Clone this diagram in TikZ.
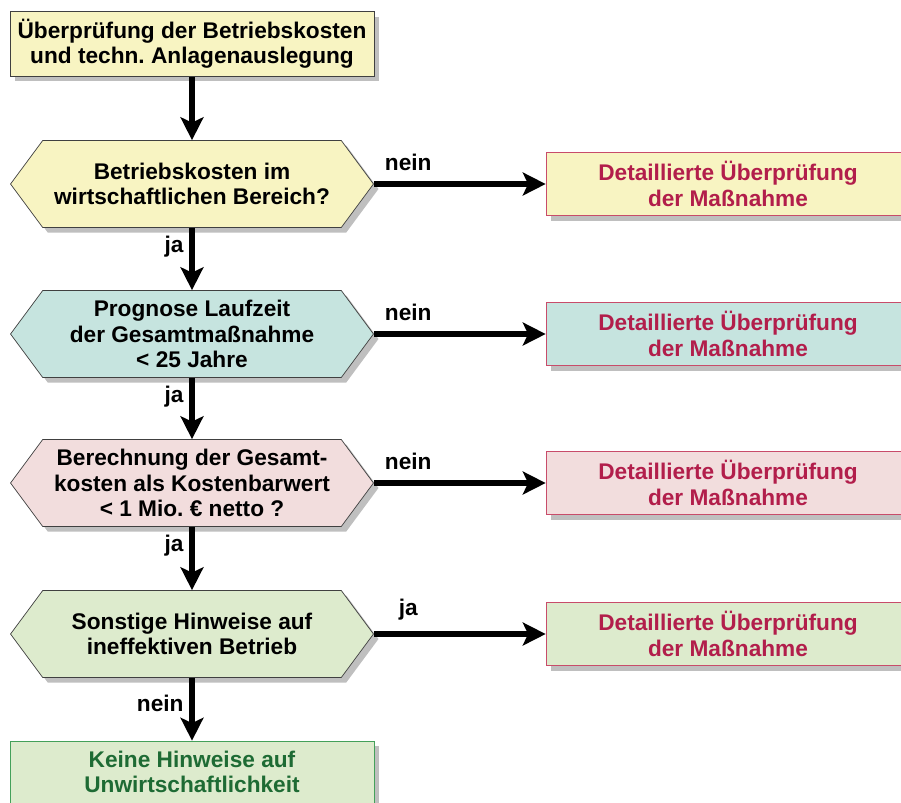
\documentclass[tikz,border=0pt]{standalone}
\usepackage{fontspec}
\setmainfont{Liberation Sans}
\usepackage{tikz}
\usetikzlibrary{positioning,shapes.symbols,shadows,arrows.meta}
\frenchspacing
\definecolor{gelb}{HTML}{F8F4C2}
\definecolor{tuerkis}{HTML}{C6E4DF}
\definecolor{rosa}{HTML}{F2DDDD}
\definecolor{gruen}{HTML}{DDEBCD}
\definecolor{rottext}{HTML}{B21E4B}
\definecolor{rotrand}{HTML}{C84C6A}
\definecolor{gruentext}{HTML}{1E6B34}
\definecolor{gruenrand}{HTML}{44A05A}
\definecolor{randgrau}{HTML}{404040}
\tikzset{
	schatten/.style={drop shadow={shadow xshift=0.1cm, shadow yshift=-0.1cm, fill=black!25, opacity=1}},
	txt/.style={font=\fontsize{12.9pt}{14.4pt}\selectfont\bfseries, align=center},
	kasten/.style={txt, draw=randgrau, schatten, minimum width=7.28cm, minimum height=1.3cm},
	frage/.style={txt, shape=signal, signal to=west and east, signal pointer angle=107, draw=randgrau, schatten, minimum width=7.26cm, minimum height=1.74cm, inner xsep=0pt},
	pruef/.style={txt, draw=rotrand, schatten, text=rottext, minimum width=7.28cm, minimum height=1.26cm},
	pfeil/.style={line width=3pt, -{Stealth[length=13pt,width=13pt,inset=3pt]}},
	lab/.style={txt}
}
\begin{document}
\begin{tikzpicture}[x=0.02cm, y=-0.02cm]
	\useasboundingbox (0,0) rectangle (901,802);
	\node[kasten, fill=gelb] (start) at (192,44) {Überprüfung der Betriebskosten\\und techn. Anlagenauslegung};
	\node[frage, fill=gelb] (q1) at (192,184) {Betriebskosten im\\wirtschaftlichen Bereich?};
	\node[frage, fill=tuerkis] (q2) at (192,334) {Prognose Laufzeit\\der Gesamtmaßnahme\\< 25 Jahre};
	\node[frage, fill=rosa] (q3) at (192,483) {Berechnung der Gesamt-\\kosten als Kostenbarwert\\< 1 Mio. € netto ?};
	\node[frage, fill=gruen] (q4) at (192,634) {Sonstige Hinweise auf\\ineffektiven Betrieb};
	\node[pruef, fill=gelb] (r1) at (728,184) {Detaillierte Überprüfung\\der Maßnahme};
	\node[pruef, fill=tuerkis] (r2) at (728,334) {Detaillierte Überprüfung\\der Maßnahme};
	\node[pruef, fill=rosa] (r3) at (728,483) {Detaillierte Überprüfung\\der Maßnahme};
	\node[pruef, fill=gruen] (r4) at (728,634) {Detaillierte Überprüfung\\der Maßnahme};
	\node[kasten, fill=gruen, draw=gruenrand, text=gruentext, minimum height=1.24cm] (ende) at (192,772) {Keine Hinweise auf\\Unwirtschaftlichkeit};
	\draw[pfeil] (start.south) -- (q1.north);
	\draw[pfeil] (q1.south) -- node[lab, pos=0.3, left]{ja} (q2.north);
	\draw[pfeil] (q2.south) -- node[lab, pos=0.3, left]{ja} (q3.north);
	\draw[pfeil] (q3.south) -- node[lab, pos=0.3, left]{ja} (q4.north);
	\draw[pfeil] (q4.south) -- node[lab, pos=0.4, left]{nein} (ende.north);
	\draw[pfeil] (q1.east) -- node[lab, pos=0.2, above, yshift=3pt]{nein} (r1.west);
	\draw[pfeil] (q2.east) -- node[lab, pos=0.2, above, yshift=3pt]{nein} (r2.west);
	\draw[pfeil] (q3.east) -- node[lab, pos=0.2, above, yshift=3pt]{nein} (r3.west);
	\draw[pfeil] (q4.east) -- node[lab, pos=0.2, above, yshift=3pt]{ja} (r4.west);
\end{tikzpicture}
\end{document}
